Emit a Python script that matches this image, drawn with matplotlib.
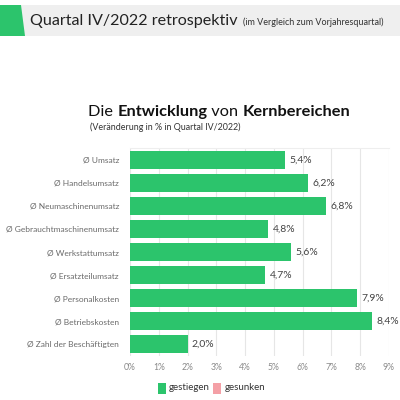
import matplotlib
matplotlib.use("Agg")
import matplotlib.pyplot as plt
from matplotlib.patches import Polygon, Rectangle
from matplotlib.offsetbox import TextArea, HPacker, AnchoredOffsetbox

categories = ["Ø Umsatz", "Ø Handelsumsatz", "Ø Neumaschinenumsatz",
              "Ø Gebrauchtmaschinenumsatz", "Ø Werkstattumsatz",
              "Ø Ersatzteilumsatz", "Ø Personalkosten", "Ø Betriebskosten",
              "Ø Zahl der Beschäftigten"]
values = [5.4, 6.2, 6.8, 4.8, 5.6, 4.7, 7.9, 8.4, 2.0]
xticks = [0, 1, 2, 3, 4, 5, 6, 7, 8, 9]
legend_labels = ["gestiegen", "gesunken"]

GREEN = "#2cc46c"
PINK = "#f4a0a6"
plt.rcParams['font.family'] = ['Lato', 'DejaVu Sans']

fig = plt.figure(figsize=(4, 4), dpi=100)
fig.patch.set_facecolor("white")

# header band
fig.patches.append(Rectangle((0, 1 - 36/400), 1, 31/400, transform=fig.transFigure,
                             facecolor="#efefef", edgecolor="none", zorder=0))
fig.patches.append(Polygon([(0, 1 - 5/400), (21/400, 1 - 5/400), (25/400, 1 - 36/400), (0, 1 - 36/400)],
                           closed=True, transform=fig.transFigure, facecolor=GREEN,
                           edgecolor="none", zorder=1))
fig.text(30/400, 1 - 21/400, "Quartal IV/2022 retrospektiv", fontsize=11.6,
         color="#222222", va="center", ha="left")
fig.text(243/400, 1 - 22/400, "(im Vergleich zum Vorjahresquartal)", fontsize=6.5,
         color="#333333", va="center", ha="left")

# chart title
parts = [("Die ", "normal"), ("Entwicklung", "bold"), (" von ", "normal"), ("Kernbereichen", "bold")]
boxes = [TextArea(s, textprops=dict(fontsize=11.8, fontweight=w, color="#111111")) for s, w in parts]
pack = HPacker(children=boxes, align="baseline", pad=0, sep=0)
ab = AnchoredOffsetbox(loc="center left", child=pack, pad=0, frameon=False,
                       bbox_to_anchor=(88/400, 1 - 112/400), bbox_transform=fig.transFigure,
                       borderpad=0)
fig.add_artist(ab)
fig.text(90/400, 1 - 127/400, "(Veränderung in % in Quartal IV/2022)", fontsize=6.4,
         color="#333333", va="center", ha="left")

ax = fig.add_axes([130/400, 1 - 356/400, 259/400, 208/400])
y = list(range(len(categories)))
ax.barh(y, values, height=0.82, color=GREEN, zorder=3)
for yi, v in zip(y, values):
    ax.text(v + 0.15, yi, f"{v:.1f}%".replace(".", ","), va="center", ha="left",
            fontsize=7.5, color="#444444", zorder=4)
ax.set_ylim(8.52, -0.52)
ax.set_xlim(0, 9)
ax.set_yticks(y)
ax.set_yticklabels(categories, fontsize=6.0, color="#6a6a6a")
ax.set_xticks(xticks)
ax.set_xticklabels([f"{t}%" for t in xticks], fontsize=6.2, color="#8a8a8a")
ax.tick_params(length=0)
ax.tick_params(axis="x", pad=5)
ax.tick_params(axis="y", pad=8)
ax.grid(axis="x", color="#e6e6e6", linewidth=0.8, zorder=0)
for s in ["left", "right", "bottom"]:
    ax.spines[s].set_visible(False)
ax.spines["top"].set_color("#eeeeee")
ax.spines["top"].set_linewidth(0.8)

# legend
fig.patches.append(Rectangle((158/400, 1 - 394/400), 8/400, 11/400, transform=fig.transFigure,
                             facecolor=GREEN, edgecolor="none"))
fig.text(169/400, 1 - 388/400, legend_labels[0], fontsize=7, color="#333333", va="center", ha="left")
fig.patches.append(Rectangle((213/400, 1 - 394/400), 8/400, 11/400, transform=fig.transFigure,
                             facecolor=PINK, edgecolor="none"))
fig.text(225/400, 1 - 388/400, legend_labels[1], fontsize=7, color="#333333", va="center", ha="left")

fig.savefig("out.png", dpi=100)
